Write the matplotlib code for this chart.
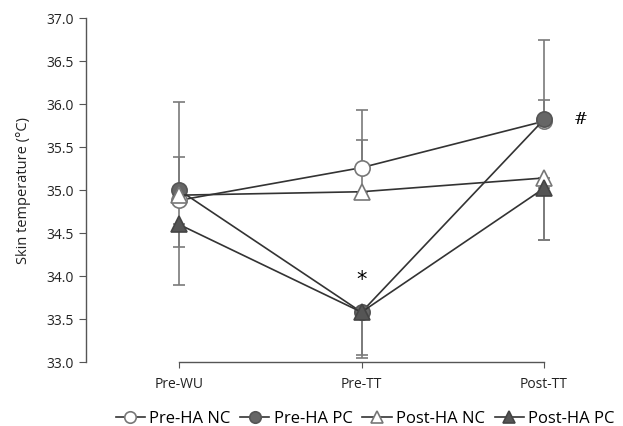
import matplotlib
matplotlib.use("Agg")
import matplotlib.pyplot as plt
import numpy as np

categories = ["Pre-WU", "Pre-TT", "Post-TT"]
series = ["Pre-HA NC", "Pre-HA PC", "Post-HA NC", "Post-HA PC"]
pre_ha_nc = [34.88, 35.26, 35.80]
pre_ha_pc = [35.00, 33.58, 35.82]
post_ha_nc = [34.94, 34.98, 35.14]
post_ha_pc = [34.60, 33.58, 35.02]
# one-sided error bars: (lower, upper)
pre_ha_nc_err = ([0.0, 0.0, 0.0], [0.50, 0.32, 0.25])
pre_ha_pc_err = ([0.0, 0.50, 0.0], [1.02, 0.0, 0.92])
post_ha_nc_err = ([0.60, 0.0, 0.72], [0.0, 0.95, 0.0])
post_ha_pc_err = ([0.70, 0.53, 0.60], [0.0, 0.0, 0.0])
yticks = [33.0, 33.5, 34.0, 34.5, 35.0, 35.5, 36.0, 36.5, 37.0]

plt.rcParams['font.family'] = ['Open Sans', 'DejaVu Sans']

fig = plt.figure(figsize=(6.23, 4.26), dpi=100)
ax = fig.add_axes([86 / 623, 0.1502, (544 - 86) / 623, 0.9577 - 0.1502])

x = np.arange(len(categories))
styles = [
    (pre_ha_nc, pre_ha_nc_err, 'o', 'white', '#777777', 11),
    (pre_ha_pc, pre_ha_pc_err, 'o', '#666666', '#555555', 11),
    (post_ha_nc, post_ha_nc_err, '^', 'white', '#777777', 12),
    (post_ha_pc, post_ha_pc_err, '^', '#555555', '#444444', 12),
]
handles = []
for (vals, errs, m, fc, ec, ms), name in zip(styles, series):
    lo, hi = errs
    for xi, v, l, h in zip(x, vals, lo, hi):
        if l > 0:
            ax.errorbar([xi], [v], yerr=[[l], [0]], fmt='none', ecolor='#7a7a7a',
                        elinewidth=1.2, capsize=4, capthick=1.2, zorder=2, clip_on=False)
        if h > 0:
            ax.errorbar([xi], [v], yerr=[[0], [h]], fmt='none', ecolor='#7a7a7a',
                        elinewidth=1.2, capsize=4, capthick=1.2, zorder=2, clip_on=False)
    hd, = ax.plot(x, vals, color='#333333', lw=1.2, marker=m, markersize=ms,
                  markerfacecolor=fc, markeredgecolor=ec, markeredgewidth=1.2,
                  zorder=3, clip_on=False, label=name)
    handles.append(hd)

ax.set_xlim(-(179 - 86) / 182.5, 2)
ax.set_ylim(33.0, 37.0)
ax.set_xticks(x)
ax.set_xticklabels(categories, fontsize=10, color='#222222')
ax.set_yticks(yticks)
ax.set_yticklabels([f"{v:.1f}" for v in yticks], fontsize=10, color='#222222')
ax.set_ylabel("Skin temperature (°C)", fontsize=10.5, color='#222222')
ax.yaxis.set_label_coords(-0.12, 0.5)
for s in ['top', 'right']:
    ax.spines[s].set_visible(False)
for s in ['left', 'bottom']:
    ax.spines[s].set_color('#555555')
    ax.spines[s].set_linewidth(1.0)
ax.spines['bottom'].set_bounds(0, 2)
ax.tick_params(axis='y', direction='out', length=5, color='#555555', pad=4)
ax.tick_params(axis='x', direction='out', length=4, color='#555555', pad=7)

ax.text(1, 33.95, "*", fontsize=15, ha='center', va='center', family='DejaVu Sans')
ax.text(2.2, 35.82, "#", fontsize=12, ha='center', va='center', family='DejaVu Serif')

leg = fig.legend(handles=handles, loc='center', bbox_to_anchor=(0.586, 0.016), ncol=4,
                 frameon=False, fontsize=12, handlelength=1.75, handletextpad=0.25,
                 columnspacing=0.6, markerscale=0.75, borderpad=0, borderaxespad=0)

fig.savefig("out.png", dpi=100)
